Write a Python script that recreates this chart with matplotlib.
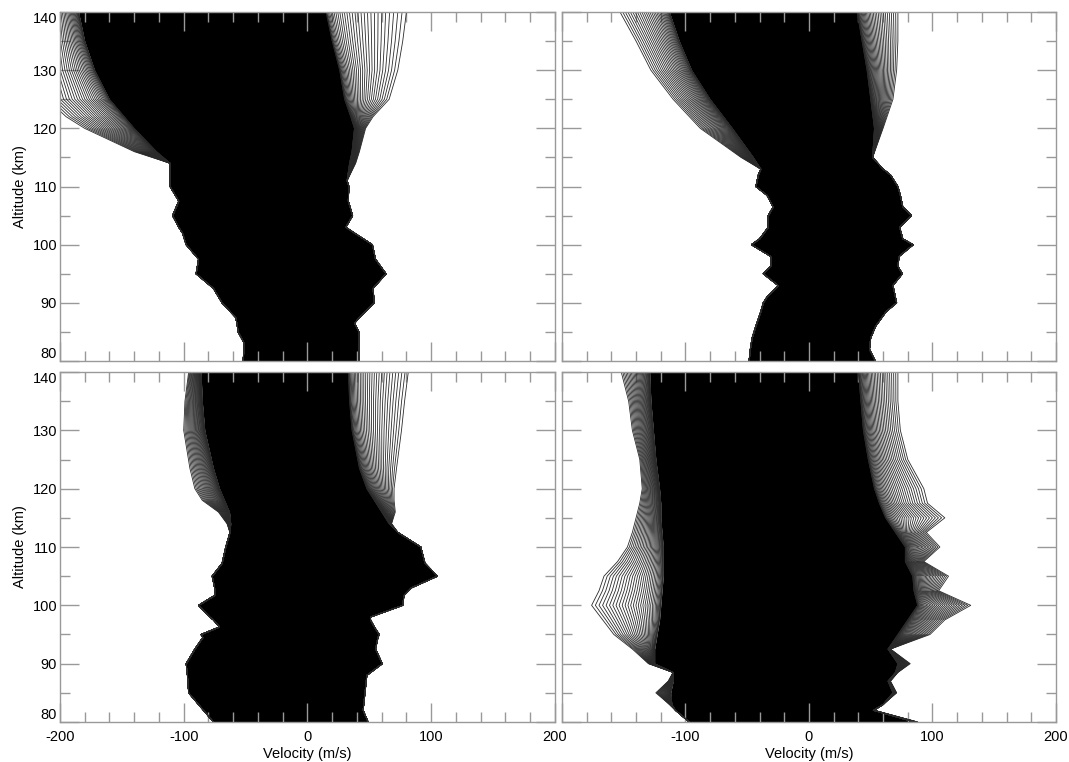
import numpy as np
import matplotlib
matplotlib.use('Agg')
import matplotlib.pyplot as plt
from matplotlib.ticker import MultipleLocator

plt.rcParams['font.family'] = ['Liberation Sans', 'DejaVu Sans']
plt.rcParams['font.size'] = 10
plt.rcParams['axes.unicode_minus'] = False

# Envelopes of the velocity profiles (km, m/s).
# *_in  = edge of the solid black core, *_out = outermost profile line.

# top left
alt_tl = [80, 83, 85, 86.5, 87.5, 90, 92.5, 95, 97.5, 100, 102, 103, 105, 107.5,
          110, 111, 114, 116, 120, 122, 125, 130, 135, 140]
left_in_tl = [-52, -51, -56, -57, -58, -69, -76, -90, -88, -98, -101, -104, -109, -104,
              -111, -111, -111, -122, -140, -148, -160, -172, -180, -185]
left_out_tl = [-52, -51, -56, -57, -58, -69, -76, -90, -88, -98, -101, -104, -109, -104,
               -111, -111, -111, -140, -180, -195, -210, -215, -215, -215]
right_in_tl = [41.5, 41.5, 41.5, 38, 42, 54, 53, 63.5, 55, 52.5, 38, 31, 36.5, 33,
               33.5, 32, 34, 36, 38, 35, 30, 26, 20, 15]
right_out_tl = [41.5, 41.5, 41.5, 38, 42, 54, 53, 63.5, 55, 52.5, 38, 31, 36.5, 33,
                33.5, 32, 39, 42, 47, 53, 66, 73, 77, 80]

# top right
alt_tr = [80, 82, 84, 86, 88.5, 90, 91, 93, 95, 96.3, 98, 100, 101, 103, 105, 106.5,
          108.5, 110, 112, 113, 115, 120, 125, 130, 135, 140]
left_in_tr = [-48.5, -47.5, -46, -43, -39, -37, -34, -25, -37, -31, -31, -46.6, -40, -33, -33, -29,
              -34, -43, -41, -39, -45, -62, -80, -95, -105, -113]
left_out_tr = [-48.5, -47.5, -46, -43, -39, -37, -34, -25, -37, -31, -31, -46.6, -40, -33, -33, -29,
               -34, -43, -41, -39, -55, -88, -110, -128, -140, -153]
right_in_tr = [53.7, 49, 50, 54, 62.5, 71, 70, 68, 75.6, 72, 73, 84.4, 76, 73.4, 83, 76,
               74, 72, 66, 60, 51.5, 53, 50, 47, 43, 39]
right_out_tr = [53.7, 49, 50, 54, 62.5, 71, 70, 68, 75.6, 72, 73, 84.4, 76, 73.4, 83, 76,
                74, 72, 66, 60, 51.5, 60, 68, 71, 72, 72]

# bottom left
alt_bl = [80, 82, 85, 88, 90, 92.5, 94.5, 95, 96.3, 97.5, 98, 100, 101.7, 103, 105, 107.2,
          110, 112.5, 114, 116, 118, 120, 123.5, 130, 135, 140]
left_in_bl = [-76, -84, -96, -97, -98, -91, -84.5, -86, -71, -76, -79, -88, -75, -75, -77, -69,
              -66, -62.6, -62, -63, -67, -71, -76, -83, -85, -86]
left_out_bl = [-76, -84, -96, -97, -98, -91, -84.5, -86, -71, -76, -79, -88, -75, -75, -77, -69,
               -66, -62.6, -65, -72, -85, -91, -95, -100, -99, -96]
right_in_bl = [49, 45, 46.5, 48, 60.5, 55, 57, 58, 54, 51, 51, 77, 78, 84, 105, 95,
               91.6, 73, 66, 60, 54, 48, 42, 36, 34, 33]
right_out_bl = [49, 45, 46.5, 48, 60.5, 55, 57, 58, 54, 51, 51, 77, 78, 84, 105, 95,
                91.6, 73, 68, 71, 70, 70, 72, 76, 78.5, 81.5]

# bottom right
alt_br = [80, 82, 83, 85, 87, 88.5, 90, 92.5, 95, 97.5, 100, 102.5, 105, 107.5, 110,
          112.5, 115, 117.5, 120, 125, 130, 135, 140]
left_in_br = [-97, -108, -111, -112, -110, -110, -125, -125, -123, -121, -120, -119, -118, -118, -118,
              -119, -120, -120, -121, -124, -126, -128, -129]
left_out_br = [-97, -108, -113, -124, -114, -110, -130, -143, -158, -167, -176, -170, -166, -155, -147,
               -143, -140, -137, -135, -137, -143, -146, -152]
right_in_br = [85, 52, 60, 68, 64, 70, 72, 64, 72, 80, 88, 85, 84, 78, 78,
               70, 62, 57, 53, 48, 44, 42, 40]
right_out_br = [88, 53, 60, 71, 66, 72, 82, 66, 98, 110, 131, 105, 113, 93, 106,
                95, 110, 96, 93, 80, 74, 72, 72]

panels = [
    (alt_tl, left_in_tl, left_out_tl, right_in_tl, right_out_tl),
    (alt_tr, left_in_tr, left_out_tr, right_in_tr, right_out_tr),
    (alt_bl, left_in_bl, left_out_bl, right_in_bl, right_out_bl),
    (alt_br, left_in_br, left_out_br, right_in_br, right_out_br),
]

# axes boxes in figure fraction [left, bottom, width, height]
boxes = [
    [0.0561, 0.5262, 0.4630, 0.4580],
    [0.5257, 0.5262, 0.4621, 0.4580],
    [0.0561, 0.0525, 0.4630, 0.4593],
    [0.5257, 0.0525, 0.4621, 0.4593],
]

N_LINES = 32
GRAY = '#999999'

fig = plt.figure(figsize=(10.69, 7.62), dpi=100)
left_axes = []

for i, (alt, l_in, l_out, r_in, r_out) in enumerate(panels):
    ax = fig.add_axes(boxes[i])
    alt = np.array(alt)
    l_in, l_out = np.array(l_in), np.array(l_out)
    r_in, r_out = np.array(r_in), np.array(r_out)

    # solid core
    ax.fill_betweenx(alt, l_in, r_in, color='black', lw=0)
    # fringe of individual profiles, packed tighter near the core
    for t in np.linspace(0, 1, N_LINES):
        f = t ** 1.7
        ax.plot(l_in + f * (l_out - l_in), alt, color='#2a2a2a', lw=0.6)
        ax.plot(r_in + f * (r_out - r_in), alt, color='#2a2a2a', lw=0.6)

    ax.set_xlim(-200, 200)
    ax.set_ylim(80, 140)
    ax.xaxis.set_major_locator(MultipleLocator(100))
    ax.xaxis.set_minor_locator(MultipleLocator(20))
    ax.yaxis.set_major_locator(MultipleLocator(10))
    ax.yaxis.set_minor_locator(MultipleLocator(5))
    ax.tick_params(which='both', direction='in', top=True, right=True,
                   color=GRAY, width=1, labelsize=10.5)
    ax.tick_params(which='major', length=14, pad=6)
    ax.tick_params(which='minor', length=7)
    for sp in ax.spines.values():
        sp.set_color(GRAY)
        sp.set_linewidth(1)

    if i < 2:
        ax.tick_params(labelbottom=False)
    else:
        ax.set_xlabel('Velocity (m/s)', labelpad=2, fontsize=10.5)
        if i == 3:
            ax.set_xticks([-200, -100, 0, 100, 200])
            ax.set_xticklabels(['', '-100', '0', '100', '200'])
    if i % 2 == 1:
        ax.tick_params(labelleft=False)
    else:
        ax.set_ylabel('Altitude (km)', labelpad=4, fontsize=10.5)
        ax.tick_params(axis='y', pad=2)
        left_axes.append(ax)

# nudge the end labels inward so 80 and 140 don't collide between panels
fig.canvas.draw()
for ax in left_axes:
    for tick in ax.yaxis.get_major_ticks():
        lab = tick.label1
        if lab.get_text() == '80':
            lab.set_va('bottom')
        elif lab.get_text() == '140':
            lab.set_va('top')

fig.savefig('out.png', dpi=100)
